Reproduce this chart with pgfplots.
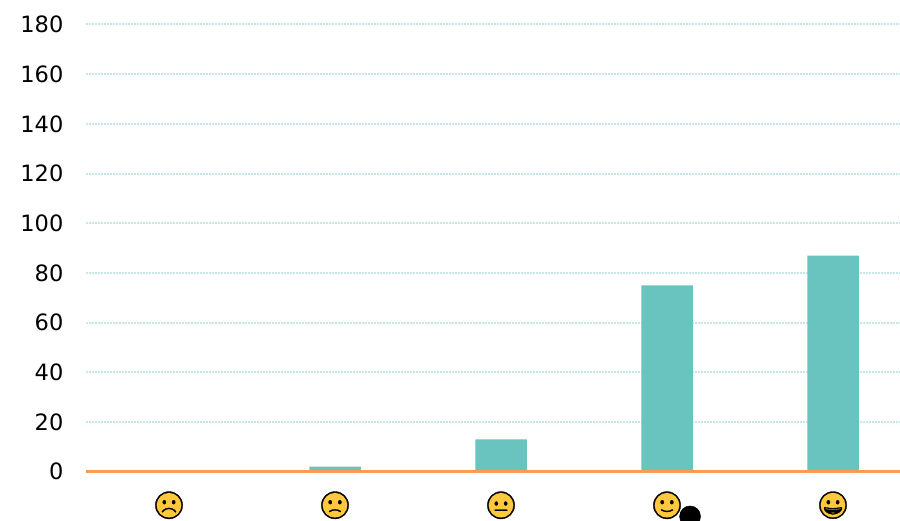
\documentclass[border=0pt]{standalone}
\usepackage{fontspec}
\usepackage{pgfplots}
\pgfplotsset{compat=1.18}
\setmainfont{DejaVu Sans}
\newfontfamily\emojifont[FakeBold=1.2]{Noto Emoji}
\definecolor{barteal}{HTML}{69C3BF}
\definecolor{gridteal}{HTML}{C5E8E6}
\definecolor{axisorange}{HTML}{FF9A55}
\definecolor{faceyellow}{HTML}{FFC83D}
\newcommand\face[1]{\begin{tikzpicture}[baseline=(c.center)]
\fill[faceyellow] (0,0) circle (13pt);
\node[inner sep=0pt,outer sep=0pt,anchor=center] (c) at (0,0) {\fontsize{27}{27}\selectfont\emojifont #1};
\end{tikzpicture}}
\pgfplotsset{gridln/.style={draw=gridteal,line width=2pt,dash pattern=on 1.5pt off 1.5pt,forget plot}}
\begin{document}
\begin{tikzpicture}[x=1pt,y=1pt]
\clip (0,0) rectangle (900,520);
\fill[white] (0,0) rectangle (900,520);
\begin{axis}[
  at={(86pt,48.3pt)},anchor=south west,
  scale only axis,width=814pt,height=447.2pt,
  xmin=-0.5,xmax=4.4036,ymin=0,ymax=180,
  clip=false,
  axis x line=bottom,axis y line=left,
  x axis line style={draw=none,-},
  y axis line style={draw=none,-},
  major tick style={draw=none},
  xtick={0,1,2,3,4},
  xticklabels={\face{☹},\face{🙁},\face{😐},\face{🙂},\face{😀}},
  xticklabel shift=17.5pt,
  x tick label style={anchor=north,inner sep=0pt},
  ytick={0,20,...,180},
  y tick label style={font=\fontsize{22.5}{24}\selectfont,anchor=east,xshift=-17pt},
  /pgf/number format/assume math mode=true,
]
\addplot[gridln] coordinates {(-0.5,20) (4.4036,20)};
\addplot[gridln] coordinates {(-0.5,40) (4.4036,40)};
\addplot[gridln] coordinates {(-0.5,60) (4.4036,60)};
\addplot[gridln] coordinates {(-0.5,80) (4.4036,80)};
\addplot[gridln] coordinates {(-0.5,100) (4.4036,100)};
\addplot[gridln] coordinates {(-0.5,120) (4.4036,120)};
\addplot[gridln] coordinates {(-0.5,140) (4.4036,140)};
\addplot[gridln] coordinates {(-0.5,160) (4.4036,160)};
\addplot[gridln] coordinates {(-0.5,180) (4.4036,180)};
\addplot[ybar,bar width=51.5pt,fill=barteal,draw=none,bar shift=0pt] coordinates {(0,0) (1,2) (2,13) (3,75) (4,87)};
\addplot[draw=axisorange,line width=2.6pt,forget plot] coordinates {(-0.5,0) (4.4036,0)};
\addplot[only marks,mark=*,mark size=10.5pt,mark options={fill=black,draw=none}] coordinates {(3.139,-18)};
\end{axis}
\end{tikzpicture}
\end{document}
